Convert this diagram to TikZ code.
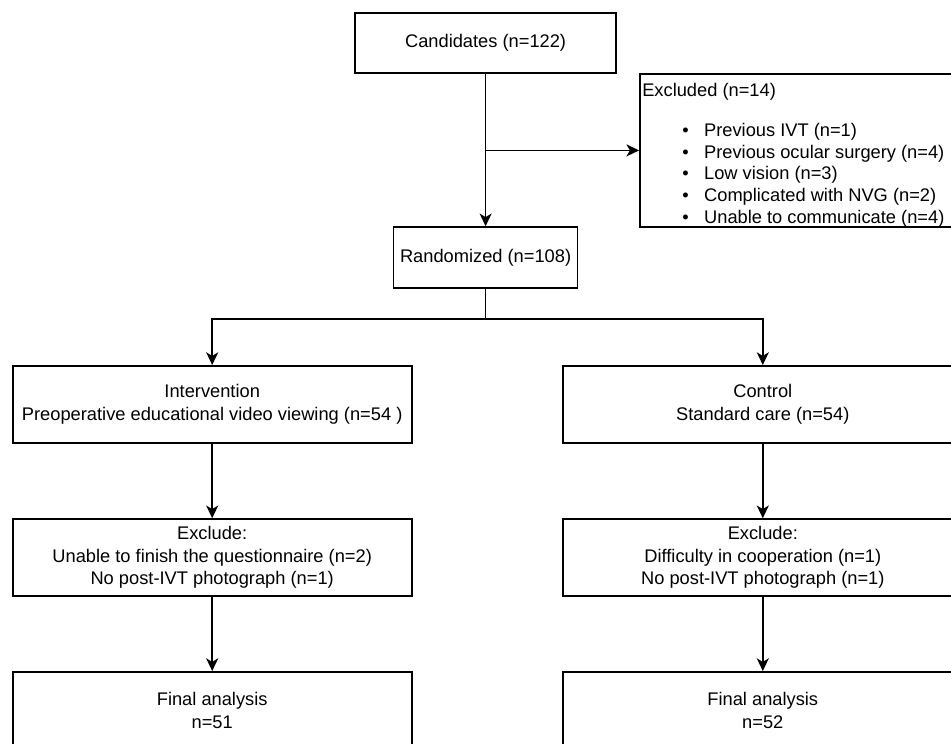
\documentclass[tikz,border=0pt]{standalone}
\usepackage{fontspec}
\setmainfont{Liberation Sans}
\usetikzlibrary{positioning, arrows.meta}

\begin{document}
\begin{tikzpicture}[
    font=\fontsize{13}{16}\selectfont,
    box/.style={rectangle, draw, line width=1.25pt, minimum width=9.975cm, minimum height=1.925cm, align=center, inner sep=0pt},
    arrow/.style={-{Stealth[length=9pt, width=8.5pt, inset=2.5pt]}, line width=1.25pt}
]
\useasboundingbox (0,0) rectangle (23.775,-18.575);

% Boxes
\node[box, minimum width=6.525cm, minimum height=1.5cm] (cand) at (12.14,-1.075) {Candidates (n=122)};
\node[box, minimum width=4.6cm, minimum height=1.525cm] (rand) at (12.14,-6.44) {Randomized (n=108)};
\node[box, minimum width=8.1cm, minimum height=3.825cm] (excl) at (20.05,-3.76) {};
\node[box] (interv) at (5.305,-10.11) {Intervention\\Preoperative educational video viewing (n=54 )};
\node[box] (ctrl) at (19.07,-10.11) {Control\\Standard care (n=54)};
\node[box] (exclA) at (5.305,-13.94) {Exclude:\\Unable to finish the questionnaire (n=2)\\No post-IVT photograph (n=1)};
\node[box] (exclB) at (19.07,-13.94) {Exclude:\\Difficulty in cooperation (n=1)\\No post-IVT photograph (n=1)};
\node[box] (finA) at (5.305,-17.76) {Final analysis\\n=51};
\node[box] (finB) at (19.07,-17.76) {Final analysis\\n=52};

% Excluded list
\node[anchor=west, inner sep=0pt] (exclTitle) at (16.05,-2.3) {Excluded (n=14)};
\node[anchor=west, inner sep=0pt] (exclList) at (17.05,-4.39) {\renewcommand{\arraystretch}{0.96}%
  \begin{tabular}{@{}l@{\hspace{11pt}}l@{}}
  \textbullet & Previous IVT (n=1)\\
  \textbullet & Previous ocular surgery (n=4)\\
  \textbullet & Low vision (n=3)\\
  \textbullet & Complicated with NVG (n=2)\\
  \textbullet & Unable to communicate (n=4)
  \end{tabular}};

% Arrows
\coordinate (split) at (12.14,-7.975);
\draw[arrow] (cand) -- (rand);
\draw[arrow] (cand.south |- excl.west) -- (excl.west);
\draw[line width=1.25pt] (rand) -- (split);
\draw[arrow] (split) -| (interv);
\draw[arrow] (split) -| (ctrl);
\draw[arrow] (interv) -- (exclA);
\draw[arrow] (ctrl) -- (exclB);
\draw[arrow] (exclA) -- (finA);
\draw[arrow] (exclB) -- (finB);

\end{tikzpicture}
\end{document}
